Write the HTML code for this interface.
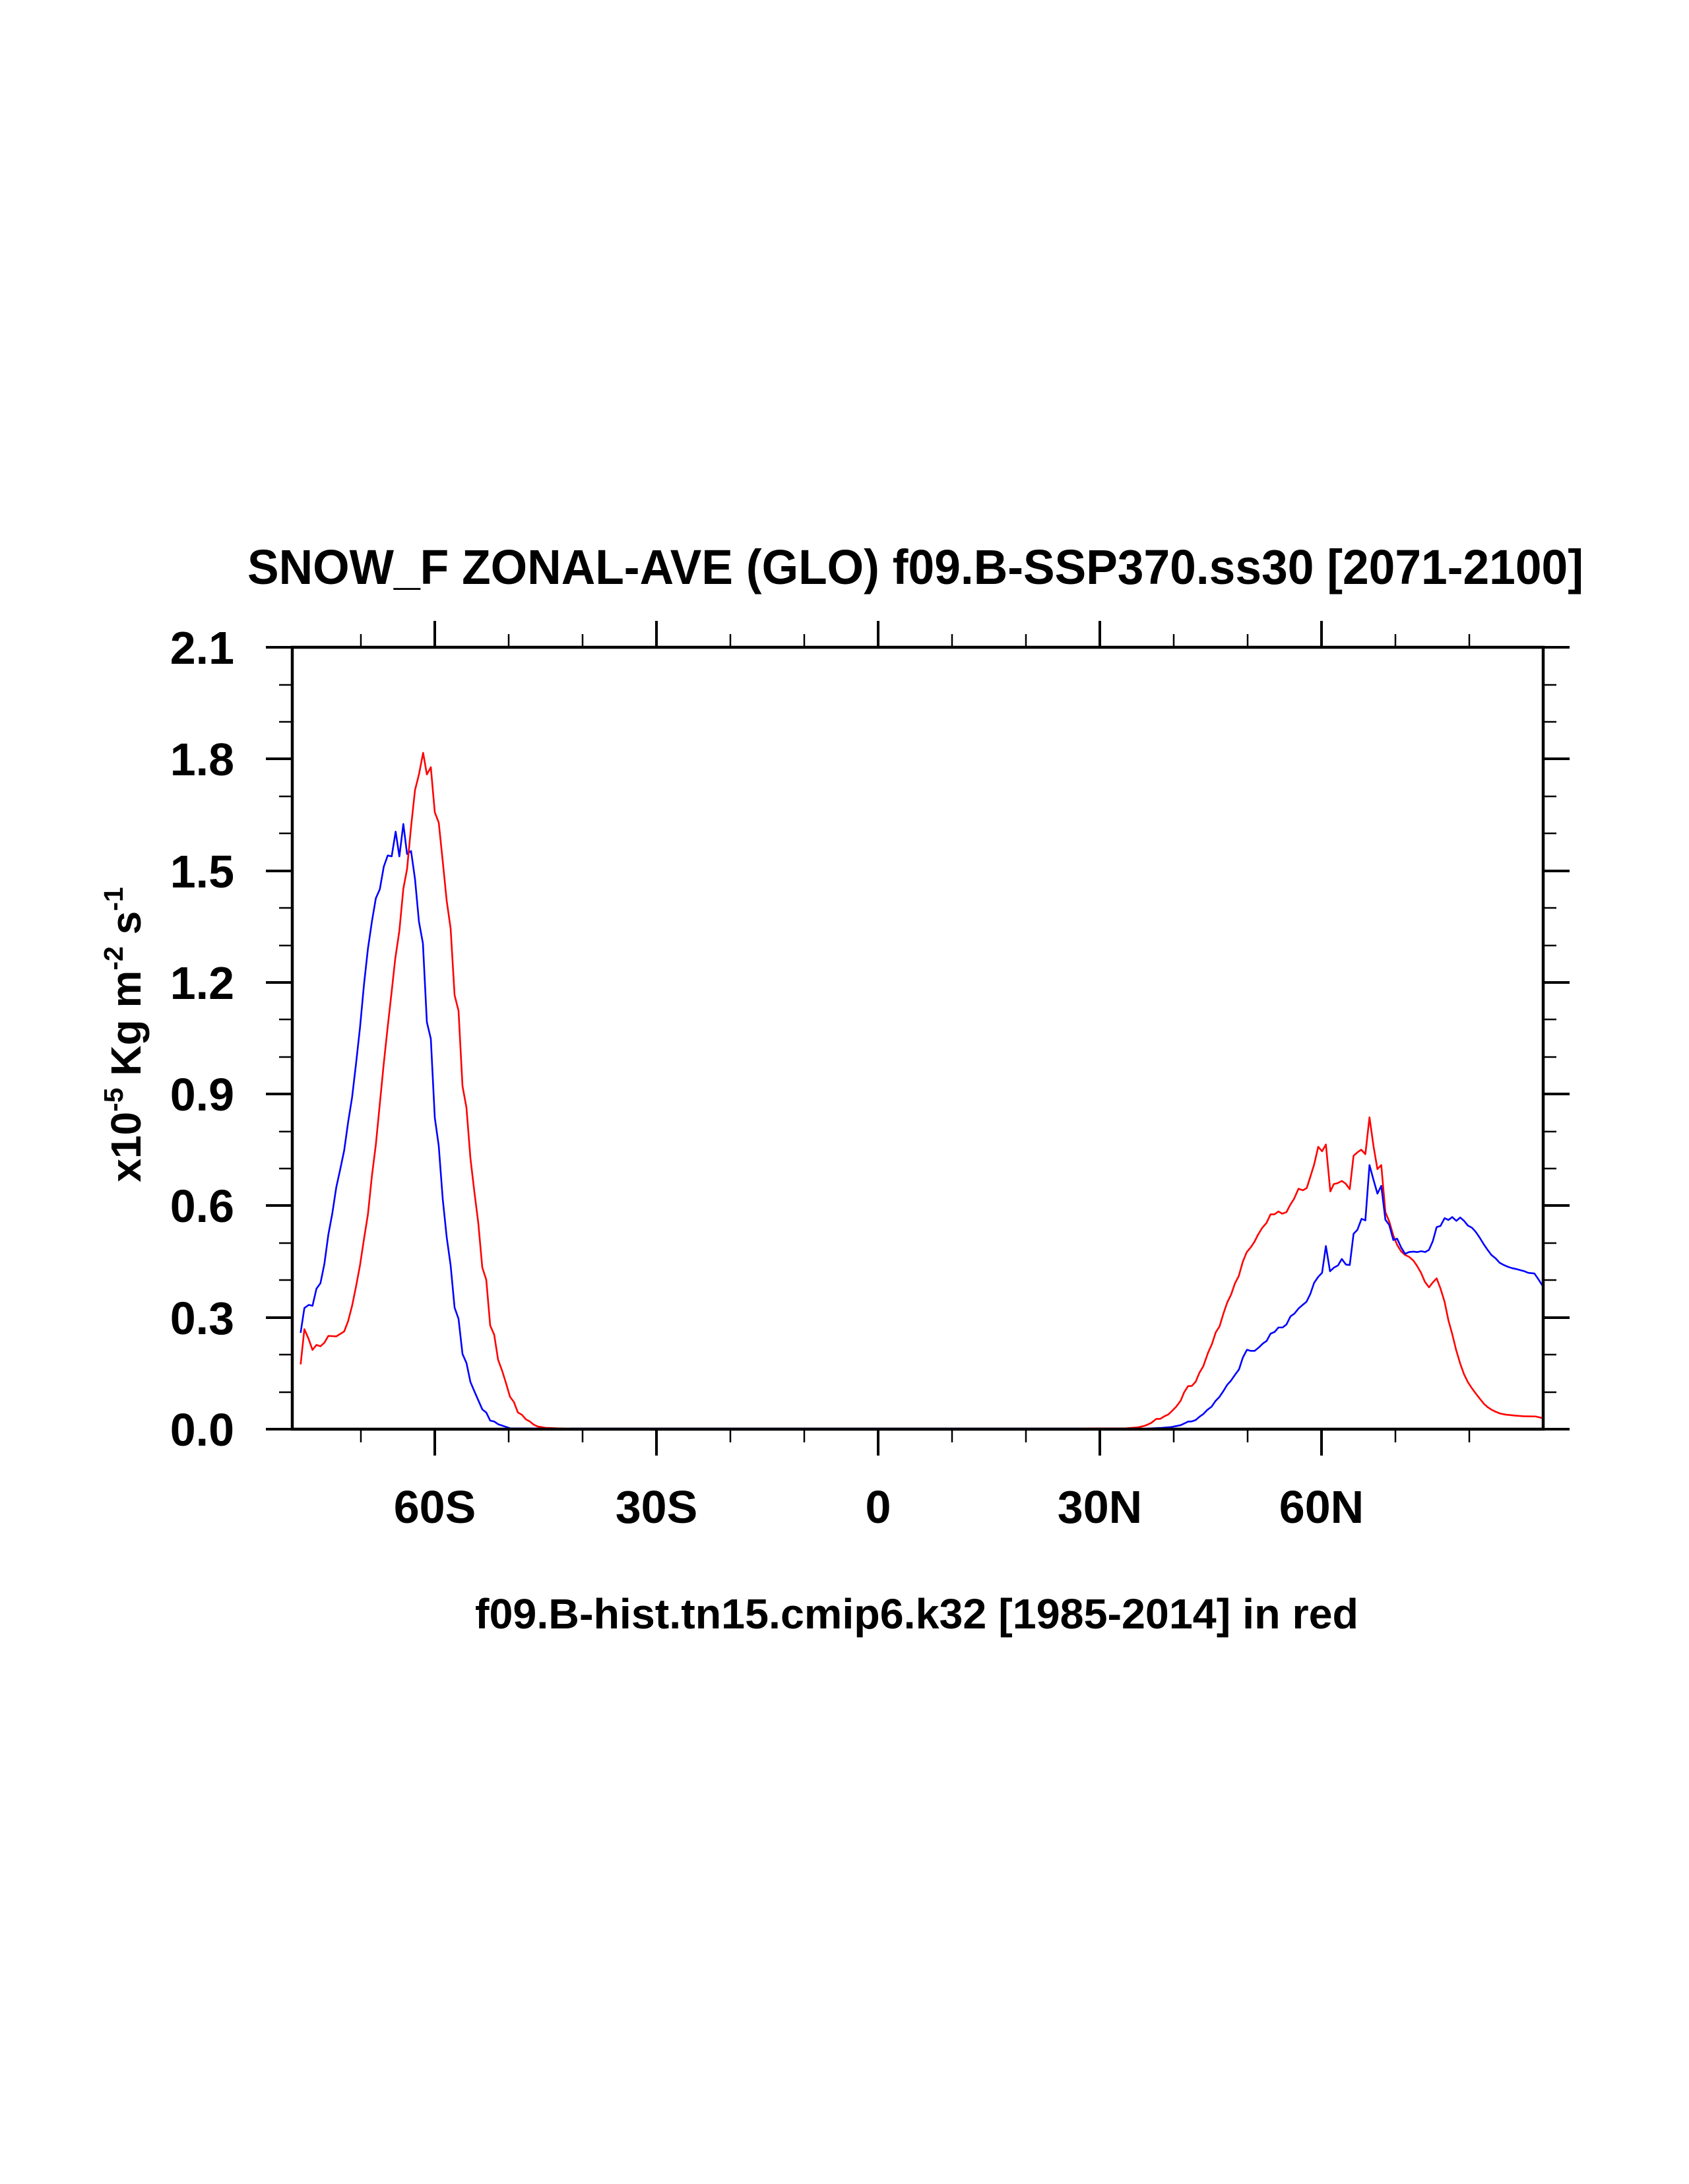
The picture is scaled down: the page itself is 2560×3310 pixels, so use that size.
<!DOCTYPE html>
<html><head><meta charset="utf-8"><style>
html,body{margin:0;padding:0;background:#fff;}
svg{display:block;}
text{font-family:"Liberation Sans",Arial,sans-serif;font-weight:bold;fill:#000;}
</style></head><body>
<svg width="2560" height="3310" viewBox="0 0 2560 3310" xmlns="http://www.w3.org/2000/svg">
<rect width="2560" height="3310" fill="#fff"/>
<text x="375" y="885" font-size="74" textLength="2025" lengthAdjust="spacingAndGlyphs">SNOW_F ZONAL-AVE (GLO) f09.B-SSP370.ss30 [2071-2100]</text>

<g id="ticks" stroke="#000" stroke-linecap="butt">
<g stroke-width="4">
<path d="M659 981V941M995 981V941M1331 981V941M1667 981V941M2003 981V941"/>
<path d="M659 2166V2206M995 2166V2206M1331 2166V2206M1667 2166V2206M2003 2166V2206"/>
<path d="M443 2166H403M443 1997H403M443 1827H403M443 1658H403M443 1489H403M443 1320H403M443 1150H403M443 981H403"/>
<path d="M2339 2166H2379M2339 1997H2379M2339 1827H2379M2339 1658H2379M2339 1489H2379M2339 1320H2379M2339 1150H2379M2339 981H2379"/>
</g>
<g stroke-width="2.5">
<path d="M547 981V961M771 981V961M883 981V961M1107 981V961M1219 981V961M1443 981V961M1555 981V961M1779 981V961M1891 981V961M2115 981V961M2227 981V961"/>
<path d="M547 2166V2186M771 2166V2186M883 2166V2186M1107 2166V2186M1219 2166V2186M1443 2166V2186M1555 2166V2186M1779 2166V2186M1891 2166V2186M2115 2166V2186M2227 2166V2186"/>
<path d="M443 2110H423M443 2053H423M443 1940H423M443 1884H423M443 1771H423M443 1715H423M443 1602H423M443 1545H423M443 1433H423M443 1376H423M443 1263H423M443 1207H423M443 1094H423M443 1038H423"/>
<path d="M2339 2110H2359M2339 2053H2359M2339 1940H2359M2339 1884H2359M2339 1771H2359M2339 1715H2359M2339 1602H2359M2339 1545H2359M2339 1433H2359M2339 1376H2359M2339 1263H2359M2339 1207H2359M2339 1094H2359M2339 1038H2359"/>
</g>
</g>

<g font-size="70" text-anchor="end">
<text x="355" y="2191">0.0</text>
<text x="355" y="2022">0.3</text>
<text x="355" y="1852">0.6</text>
<text x="355" y="1683">0.9</text>
<text x="355" y="1514">1.2</text>
<text x="355" y="1345">1.5</text>
<text x="355" y="1175">1.8</text>
<text x="355" y="1006">2.1</text>
</g>
<g font-size="70" text-anchor="middle">
<text x="659" y="2308">60S</text>
<text x="995" y="2308">30S</text>
<text x="1331" y="2308">0</text>
<text x="1667" y="2308">30N</text>
<text x="2003" y="2308">60N</text>
</g>
<text x="720" y="2468" font-size="64" textLength="1339" lengthAdjust="spacingAndGlyphs">f09.B-hist.tn15.cmip6.k32 [1985-2014] in red</text>
<text transform="translate(213,1568) rotate(-90)" font-size="64" text-anchor="middle">x10<tspan font-size="41" dy="-27">-5</tspan><tspan dy="27"> Kg m</tspan><tspan font-size="41" dy="-27">-2</tspan><tspan dy="27"> s</tspan><tspan font-size="41" dy="-27">-1</tspan></text>

<g fill="none" stroke-width="2.6" stroke-linejoin="round">
<path stroke="#00f" d="M863 2165H1640"/>
<g transform="translate(443,1100) scale(0.33333,0.68245)">
<polyline vector-effect="non-scaling-stroke" stroke="#00f" points="38,1348 55,1293 75,1286 92,1288 110,1250 128,1238 146,1195 164,1130 182,1083 200,1025 218,985 236,943 254,880 272,825 290,750 308,670 326,575 344,495 362,435 380,383 398,363 416,313 434,288 452,290 470,235 487,290 505,218 522,285 540,278 558,340 576,435 594,483 612,658 630,695 648,870 666,933 684,1050 702,1135 720,1198 738,1292 756,1317 774,1395 792,1415 810,1457 828,1478 846,1498 864,1518 882,1525 900,1543 918,1545 936,1551 954,1554 972,1557 990,1560 1260,1561"/>
<polyline vector-effect="non-scaling-stroke" stroke="#f00" points="38,1418 55,1340 73,1360 92,1386 110,1375 128,1378 146,1370 164,1355 200,1356 236,1345 254,1322 272,1288 290,1245 308,1198 326,1140 344,1085 362,1000 380,930 398,840 416,750 434,668 452,590 468,518 487,455 505,362 522,318 540,225 558,143 576,108 595,60 612,108 630,92 648,192 666,215 684,300 702,388 720,450 738,598 756,633 774,800 792,848 810,960 828,1035 846,1105 864,1203 882,1230 900,1332 918,1352 936,1408 954,1432 972,1460 990,1490 1008,1502 1026,1525 1044,1530 1062,1540 1080,1545 1098,1552 1116,1556 1150,1559 1200,1560 1260,1561"/>
</g>
<g transform="translate(1640,1640) scale(0.44643,0.33806)">
<polyline vector-effect="non-scaling-stroke" stroke="#f00" points="0,1553 150,1552 190,1548 215,1540 235,1528 252,1510 265,1510 280,1498 293,1490 305,1475 320,1455 335,1428 347,1390 360,1363 373,1362 386,1343 399,1302 412,1273 428,1213 441,1175 454,1122 467,1095 480,1038 493,988 506,953 519,903 532,870 546,805 559,763 572,742 585,717 598,683 612,653 626,632 640,593 653,593 667,580 680,590 694,583 707,550 720,523 735,478 750,485 763,475 775,425 788,370 802,290 815,310 828,280 843,490 855,457 868,453 882,443 895,455 909,480 922,330 935,315 948,303 962,323 976,158 990,290 1003,390 1016,372 1030,583 1043,625 1057,688 1070,730 1083,758 1097,775 1110,783 1125,800 1138,825 1151,855 1164,895 1178,920 1191,898 1204,880 1217,925 1231,985 1244,1068 1257,1130 1270,1200 1284,1262 1297,1310 1310,1345 1325,1375 1338,1398 1351,1420 1365,1443 1378,1458 1392,1470 1405,1478 1420,1486 1440,1491 1470,1495 1500,1498 1540,1499 1563,1506"/>
<polyline vector-effect="non-scaling-stroke" stroke="#00f" points="0,1556 200,1555 240,1552 270,1550 300,1547 320,1542 335,1538 348,1530 360,1522 373,1521 386,1515 399,1500 412,1488 425,1470 440,1455 453,1430 466,1412 480,1385 493,1357 506,1338 519,1313 533,1288 546,1235 560,1200 573,1205 586,1205 600,1190 614,1172 627,1160 640,1128 654,1120 667,1100 681,1100 694,1087 708,1050 721,1038 735,1015 748,1000 762,985 775,950 788,900 802,873 815,855 828,735 842,848 855,832 869,822 882,793 896,818 909,820 922,680 935,662 949,613 962,620 976,372 990,440 1003,500 1016,465 1030,617 1043,640 1057,708 1070,702 1083,740 1097,770 1110,762 1125,760 1138,762 1152,758 1165,762 1178,752 1191,713 1204,650 1217,645 1231,610 1244,618 1257,605 1271,622 1284,607 1297,622 1310,643 1324,653 1337,672 1350,697 1363,725 1377,752 1390,775 1404,790 1418,810 1432,820 1446,828 1460,834 1474,838 1488,843 1502,848 1515,855 1536,858 1550,885 1563,912"/>
</g>
</g>

<rect x="443" y="981" width="1896" height="1185" fill="none" stroke="#000" stroke-width="4.5"/>
</svg>
</body></html>
